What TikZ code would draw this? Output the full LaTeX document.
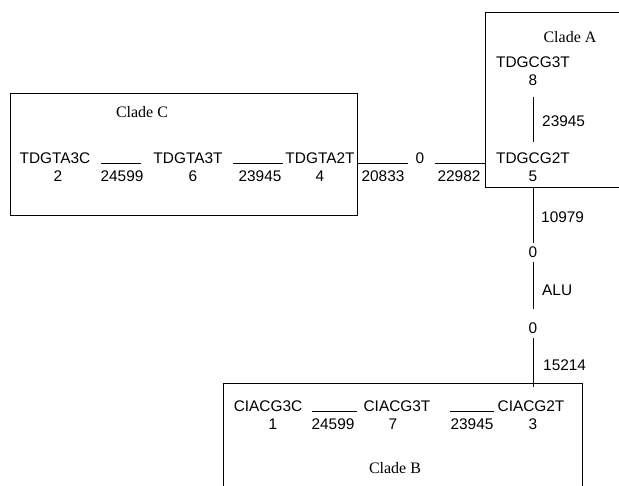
\documentclass[tikz,border=0pt]{standalone}
\usepackage{fontspec}
\setmainfont{Liberation Serif}
\newfontfamily\labfont{Liberation Sans}
\usetikzlibrary{calc}
\begin{document}
\begin{tikzpicture}[x=1pt,y=-1pt,
  lab/.style={font=\labfont\fontsize{15.4}{18}\selectfont, inner sep=0pt, anchor=base},
  clade/.style={font=\fontsize{16}{19}\selectfont, inner sep=0pt, anchor=base},
  conn/.style={line width=1pt},
  cladebox/.style={draw, line width=1.1pt, inner sep=0pt, anchor=north west}]
\useasboundingbox (0,0) rectangle (619,486);
\clip (0,0) rectangle (619,486);
\fill[white] (0,0) rectangle (619,486);
% boxes
\node[cladebox, minimum width=347pt, minimum height=122pt] (boxC) at (10,93) {};
\node[cladebox, minimum width=200pt, minimum height=175pt] (boxA) at (485,12) {};
\node[cladebox, minimum width=359pt, minimum height=140pt] (boxB) at (223,383) {};
% clade C
\node[clade] (cladeC) at (142,118) {Clade C};
\node[lab] (tdgta3c) at (55,164) {TDGTA3C};
\node[lab] (n2) at (58,182) {2};
\node[lab] (e1) at (122,182) {24599};
\node[lab] (tdgta3t) at (188,164) {TDGTA3T};
\node[lab] (n6) at (193,182) {6};
\node[lab] (e2) at (260,182) {23945};
\node[lab] (tdgta2t) at (320,164) {TDGTA2T};
\node[lab] (n4) at (320,182) {4};
\draw[conn] ([xshift=10pt]tdgta3c.base east) -- ([xshift=-12pt]tdgta3t.base west);
\draw[conn] ([xshift=10pt]tdgta3t.base east) -- ([xshift=-2pt]tdgta2t.base west);
% link C - A
\node[lab] (zh) at (420,163.5) {0};
\draw[conn] (zh.base -| boxC.east) -- ([xshift=-8pt]zh.base west);
\draw[conn] ([xshift=11pt]zh.base east) -- (zh.base -| boxA.west);
\node[lab] (w1) at (383,182) {20833};
\node[lab] (w2) at (459,182) {22982};
% clade A
\node[clade] (cladeA) at (570,43) {Clade A};
\node[lab] (tdgcg3t) at (533,68) {TDGCG3T};
\node[lab] (n8) at (533,86) {8};
\node[lab, anchor=base west] (a1) at (542,127) {23945};
\node[lab] (tdgcg2t) at (533,164) {TDGCG2T};
\node[lab] (n5) at (533,182) {5};
\draw[conn] ([yshift=-11pt]n8.south) -- ([yshift=11pt]tdgcg2t.north);
% chain A - B
\node[lab] (z1) at (533,257.5) {0};
\node[lab] (z2) at (533,333.5) {0};
\node[lab, anchor=base west] (a2) at (541,222.5) {10979};
\node[lab, anchor=base west] (alu) at (542,295.5) {ALU};
\node[lab, anchor=base west] (a3) at (543,370.5) {15214};
\draw[conn] (n5 |- boxA.south) -- ([yshift=4pt]z1.north);
\draw[conn] ([yshift=-4.5pt]z1.south) -- ([yshift=14pt]z2.north);
% clade B
\node[lab] (ciacg3c) at (268,412) {CIACG3C};
\node[lab] (n1) at (273,430) {1};
\node[lab] (b1) at (333,430) {24599};
\node[lab] (ciacg3t) at (397,412) {CIACG3T};
\node[lab] (n7) at (393,430) {7};
\node[lab] (b2) at (472,430) {23945};
\node[lab] (ciacg2t) at (531,412) {CIACG2T};
\node[lab] (n3) at (533,430) {3};
\node[clade] (cladeB) at (395,473) {Clade B};
\draw[conn] ([xshift=10pt]ciacg3c.base east) -- ([xshift=-6pt]ciacg3t.base west);
\draw[conn] ([xshift=19pt]ciacg3t.base east) -- ([xshift=-3.5pt]ciacg2t.base west);
\draw[conn] ([yshift=-4.5pt]z2.south) -- ($(z2.south |- ciacg2t.north)+(0,-14)$);
\end{tikzpicture}
\end{document}
